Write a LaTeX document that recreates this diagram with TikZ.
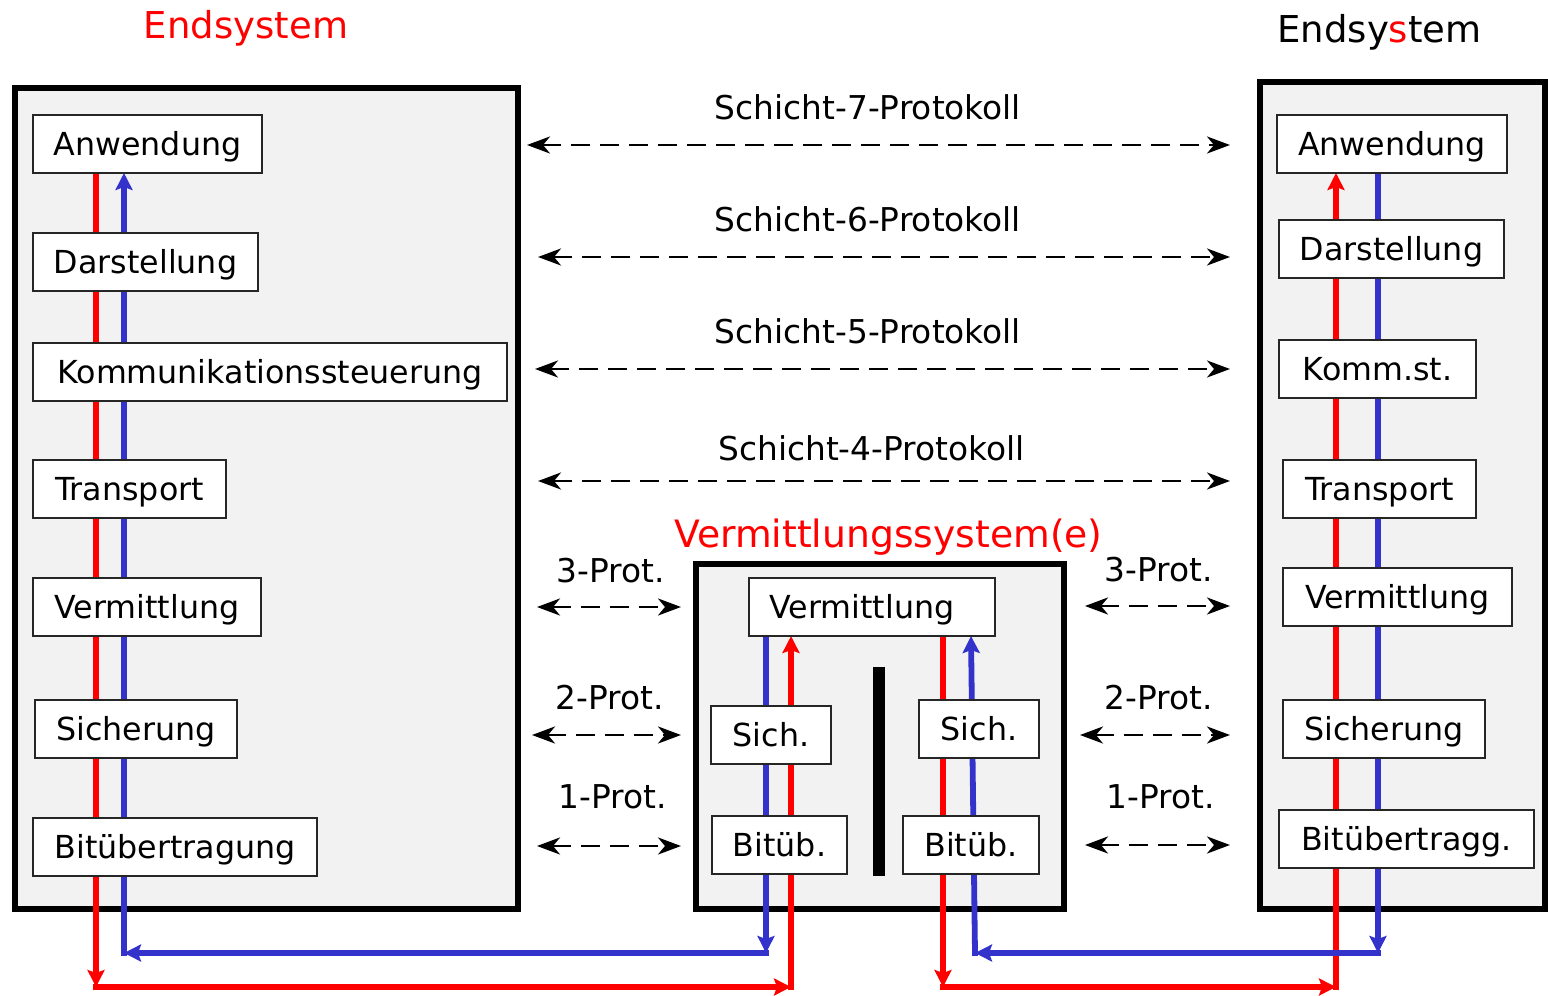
\documentclass[tikz,border=0pt]{standalone}
\usepackage{fontspec}
\setmainfont{DejaVu Sans}
\usetikzlibrary{arrows.meta}
\definecolor{flowred}{HTML}{FF0000}
\definecolor{flowblue}{HTML}{3333CC}
\definecolor{panel}{HTML}{F2F2F2}
\pgfdeclarelayer{bg}
\pgfdeclarelayer{flow}
\pgfsetlayers{bg,flow,main}

\begin{document}
\begin{tikzpicture}[x=1pt,y=-1pt,
  lbl/.style={font=\fontsize{31.7}{36}\selectfont},
  layerbox/.style={lbl, draw=black!85, line width=2pt, fill=white,
    inner sep=0pt, outer sep=0pt, minimum height=58pt,
    text height=23pt, text depth=0pt, anchor=north west},
  sysbox/.style={draw=black, line width=5.5pt, fill=panel,
    inner sep=0pt, outer sep=0pt, anchor=north west},
  title/.style={font=\fontsize{37}{44}\selectfont, anchor=base, inner sep=0pt},
  protolabel/.style={font=\fontsize{32.8}{38}\selectfont, anchor=base, inner sep=0pt},
  proto/.style={line width=2.9pt, dash pattern=on 19pt off 10pt,
    {Stealth[length=23pt,width=17pt,inset=7pt]}-{Stealth[length=23pt,width=17pt,inset=7pt]}},
  redflow/.style={draw=flowred, line width=5.8pt, line cap=rect, -{Stealth[length=17pt,width=17pt,inset=3pt]}},
  blueflow/.style={draw=flowblue, line width=5.8pt, line cap=rect, -{Stealth[length=17pt,width=17pt,inset=3pt]}},
]
\useasboundingbox (0,0) rectangle (1548,996);

% system frames
\begin{pgfonlayer}{bg}
  \node[sysbox, minimum width=503pt, minimum height=821pt] (sysL) at (15,88) {};
  \node[sysbox, minimum width=368pt, minimum height=345pt] (sysM) at (696,564) {};
  \node[sysbox, minimum width=285pt, minimum height=827pt] (sysR) at (1260,82) {};
\end{pgfonlayer}

% titles
\node[title, text=flowred] (tL) at (246,38) {Endsystem};
\node[title] (tR) at (1379.5,42) {Endsy\textcolor{flowred}{s}tem};
\node[title, text=flowred, font=\fontsize{37.7}{44}\selectfont] (tM) at (888.5,547) {Vermittlungssystem(e)};

% left end system layers
\node[layerbox, minimum width=229pt] (LAnw) at (33,115) {Anwendung};
\node[layerbox, minimum width=225pt] (LDar) at (33,233) {Darstellung};
\node[layerbox, minimum width=474pt] (LKom) at (33,343) {Kommunikationssteuerung};
\node[layerbox, minimum width=193pt] (LTra) at (33,460) {Transport};
\node[layerbox, minimum width=228pt] (LVer) at (33,578) {Vermittlung};
\node[layerbox, minimum width=202pt] (LSic) at (35,700) {Sicherung};
\node[layerbox, minimum width=284pt] (LBit) at (33,818) {Bitübertragung};

% right end system layers
\node[layerbox, minimum width=230pt] (RAnw) at (1277,115) {Anwendung};
\node[layerbox, minimum width=225pt] (RDar) at (1279,220) {Darstellung};
\node[layerbox, minimum width=197pt] (RKom) at (1279,340) {Komm.st.};
\node[layerbox, minimum width=193pt] (RTra) at (1283,460) {Transport};
\node[layerbox, minimum width=229pt] (RVer) at (1283,568) {Vermittlung};
\node[layerbox, minimum width=202pt] (RSic) at (1283,700) {Sicherung};
\node[layerbox, minimum width=255pt] (RBit) at (1279,810) {Bitübertragg.};

% relay system layers
\node[layerbox, minimum width=246pt] (MVer) at (749,578) {\hspace*{-20pt}Vermittlung};
\node[layerbox, minimum width=120pt] (MSicL) at (711,706) {Sich.};
\node[layerbox, minimum width=135pt] (MBitL) at (712,816) {Bitüb.};
\node[layerbox, minimum width=120pt] (MSicR) at (919,700) {Sich.};
\node[layerbox, minimum width=136pt] (MBitR) at (903,816) {Bitüb.};
\node[fill=black, inner sep=0pt, outer sep=0pt, minimum width=12pt, minimum height=209pt, anchor=north west] (wall) at (873,667) {};

% peer protocols
\coordinate (p7a) at (527,145);  \coordinate (p7b) at (1230,145);
\coordinate (p6a) at (538,257);  \coordinate (p6b) at (1230,257);
\coordinate (p5a) at (535,369);  \coordinate (p5b) at (1230,369);
\coordinate (p4a) at (538,481);  \coordinate (p4b) at (1230,481);
\coordinate (l3a) at (537,607);  \coordinate (l3b) at (681,607);
\coordinate (l2a) at (532,735);  \coordinate (l2b) at (681,735);
\coordinate (l1a) at (537,846);  \coordinate (l1b) at (681,846);
\coordinate (r3a) at (1085,606); \coordinate (r3b) at (1230,606);
\coordinate (r2a) at (1080,735); \coordinate (r2b) at (1230,735);
\coordinate (r1a) at (1085,845); \coordinate (r1b) at (1230,845);

\draw[proto] (p7a) -- (p7b);
\draw[proto] (p6a) -- (p6b);
\draw[proto] (p5a) -- (p5b);
\draw[proto] (p4a) -- (p4b);
\draw[proto] (l3a) -- (l3b);
\draw[proto] (l2a) -- (l2b);
\draw[proto] (l1a) -- (l1b);
\draw[proto] (r3a) -- (r3b);
\draw[proto] (r2a) -- (r2b);
\draw[proto] (r1a) -- (r1b);

\node[protolabel] (s7) at (868,119.5) {Schicht-7-Protokoll};
\node[protolabel] (s6) at (868,231.5) {Schicht-6-Protokoll};
\node[protolabel] (s5) at (868,343.5) {Schicht-5-Protokoll};
\node[protolabel] (s4) at (871.5,460.5) {Schicht-4-Protokoll};
\node[protolabel] (ls3) at (610.5,582.5) {3-Prot.};
\node[protolabel] (ls2) at (610,709.5) {2-Prot.};
\node[protolabel] (ls1) at (612.5,808.5) {1-Prot.};
\node[protolabel] (rs3) at (1158.5,581.5) {3-Prot.};
\node[protolabel] (rs2) at (1158.5,709.5) {2-Prot.};
\node[protolabel] (rs1) at (1161,808.5) {1-Prot.};

% data paths
\coordinate (lr1) at (96,987);   \coordinate (lr2) at (791,987);
\coordinate (lb1) at (766,953);  \coordinate (lb2) at (124,953);
\coordinate (rr1) at (943,987);  \coordinate (rr2) at (1336,987);
\coordinate (rb1) at (1378,953); \coordinate (rb2) at (975,953);
\coordinate (rbt) at (971,0);

\begin{pgfonlayer}{flow}
  \draw[redflow] (LAnw.south -| lr1) -- (lr1);
  \draw[redflow] (lr1) -- (lr2);
  \draw[redflow] (lr2) -- (MVer.south -| lr2);

  \draw[blueflow] (MVer.south -| lb1) -- (lb1);
  \draw[blueflow] (lb1) -- (lb2);
  \draw[blueflow] (lb2) -- (LAnw.south -| lb2);

  \draw[redflow] (MVer.south -| rr1) -- (rr1);
  \draw[redflow] (rr1) -- (rr2);
  \draw[redflow] (rr2) -- (RAnw.south -| rr2);

  \draw[blueflow] (RAnw.south -| rb1) -- (rb1);
  \draw[blueflow] (rb1) -- (rb2);
  \draw[blueflow] (rb2) -- (MVer.south -| rbt);
\end{pgfonlayer}
\end{tikzpicture}
\end{document}
